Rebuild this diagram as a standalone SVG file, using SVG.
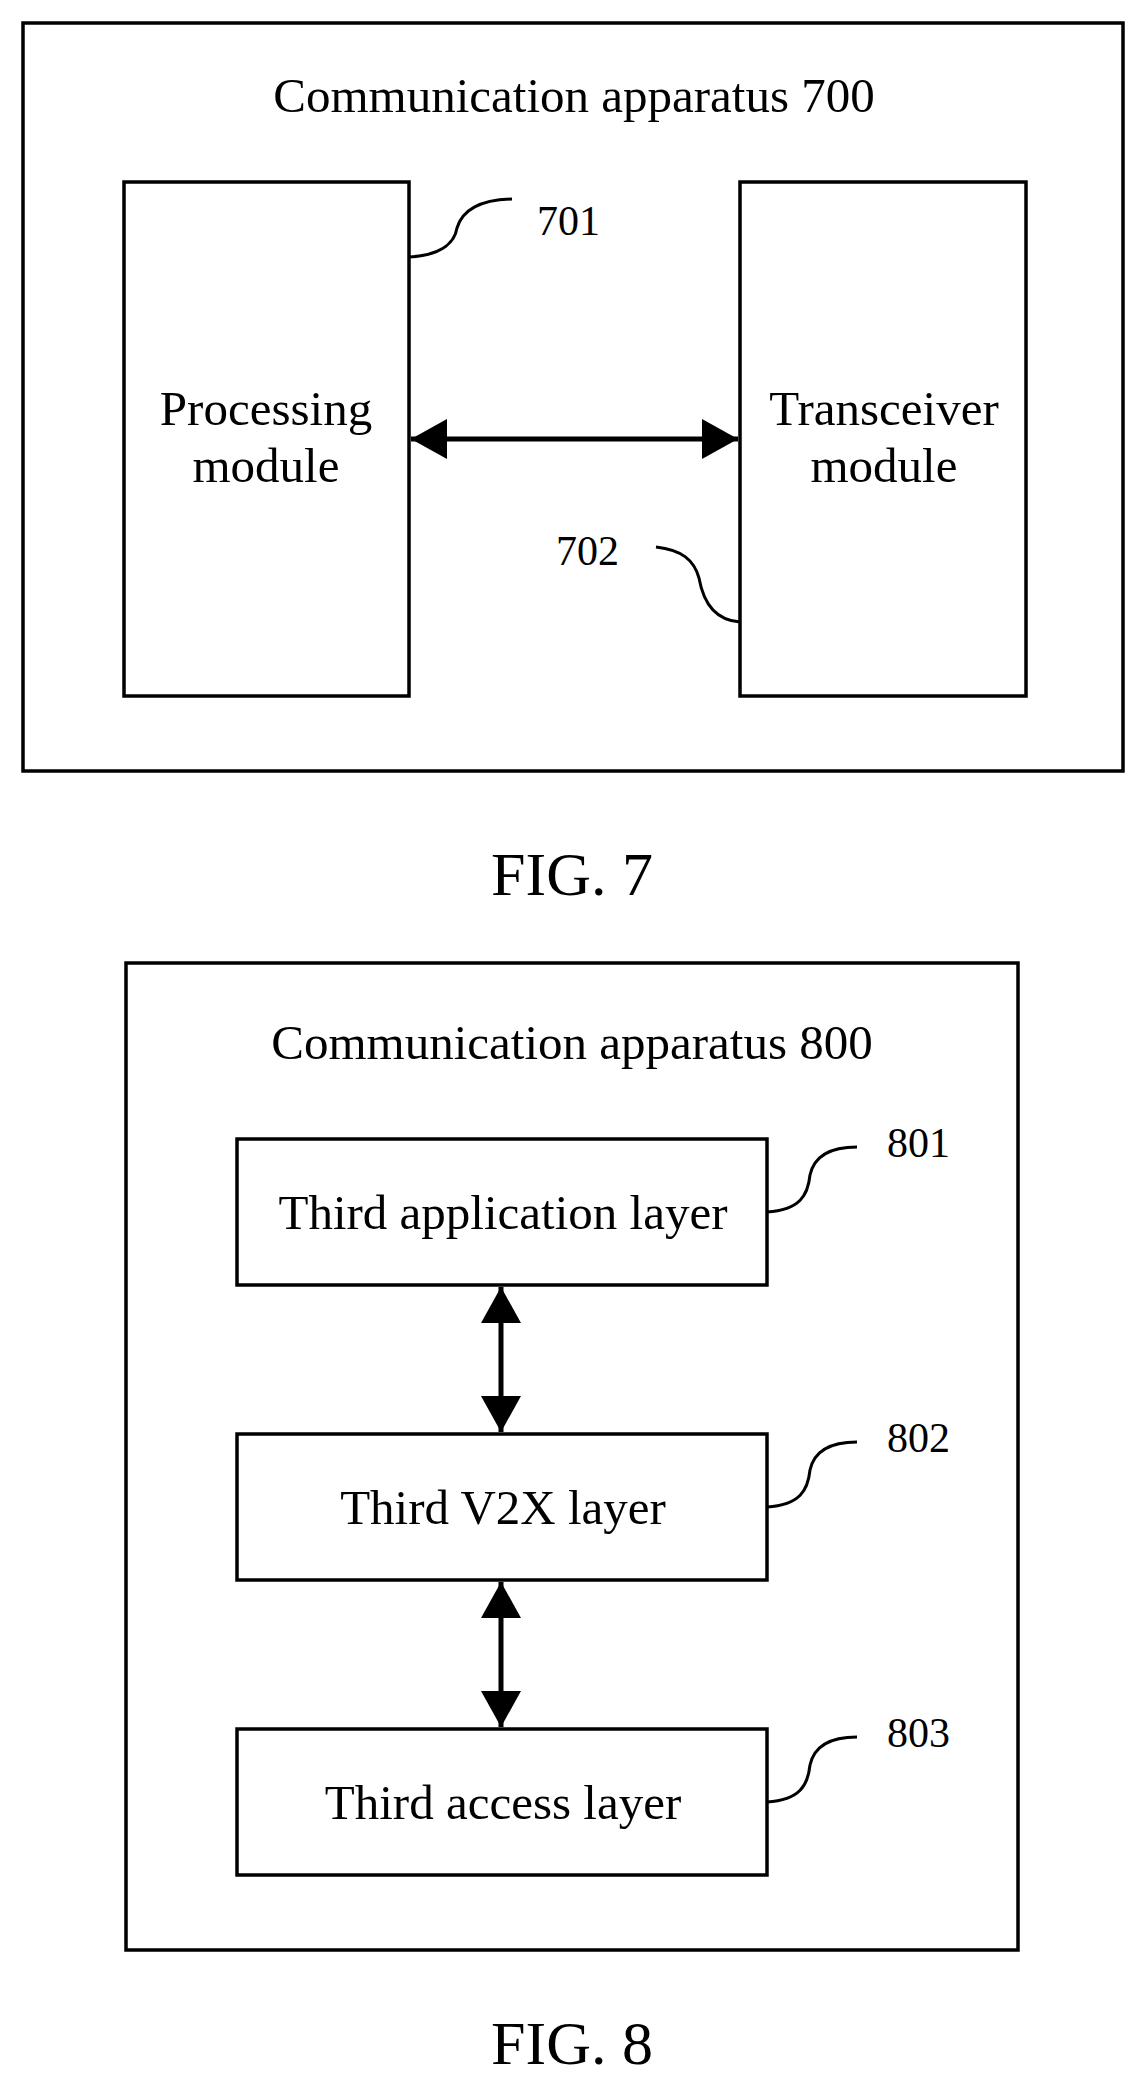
<svg xmlns="http://www.w3.org/2000/svg" width="1143" height="2080" viewBox="0 0 1143 2080">
<style>
.b{fill:none;stroke:#000;stroke-width:3.5}
.t{font-family:"Liberation Serif",serif;font-size:49px;fill:#000;text-anchor:middle}
.l{font-family:"Liberation Serif",serif;font-size:42px;fill:#000}
.f{font-family:"Liberation Serif",serif;font-size:62px;fill:#000;text-anchor:middle}
.c{fill:none;stroke:#000;stroke-width:3}
.a{stroke:#000;stroke-width:5;fill:none}
</style>
<defs>
<marker id="ah" markerUnits="userSpaceOnUse" markerWidth="36" markerHeight="40" refX="36" refY="20" orient="auto-start-reverse" viewBox="0 0 36 40"><path d="M0,0 L36,20 L0,40 Z" fill="#000"/></marker>
</defs>
<rect width="1143" height="2080" fill="#fff"/>
<g id="fig7">
<rect class="b" x="23" y="23" width="1100" height="748"/>
<text class="t" x="574" y="112">Communication apparatus 700</text>
</g>
<g id="n701">
<rect class="b" x="124" y="182" width="285" height="514"/>
<text class="t" x="266" y="425">Processing</text>
<text class="t" x="266" y="482">module</text>
<text class="l" x="537" y="235">701</text>
</g>
<g id="n702">
<rect class="b" x="740" y="182" width="286" height="514"/>
<text class="t" x="884" y="425">Transceiver</text>
<text class="t" x="884" y="482">module</text>
<text class="l" x="556" y="565">702</text>
</g>
<text class="f" x="572" y="895">FIG. 7</text>
<g id="fig8">
<rect class="b" x="126" y="963" width="892" height="987"/>
<text class="t" x="572" y="1059">Communication apparatus 800</text>
</g>
<g id="n801">
<rect class="b" x="237" y="1139" width="530" height="146"/>
<text class="t" x="503" y="1229">Third application layer</text>
<text class="l" x="887" y="1157">801</text>
</g>
<g id="n802">
<rect class="b" x="237" y="1434" width="530" height="146"/>
<text class="t" x="503" y="1524">Third V2X layer</text>
<text class="l" x="887" y="1452">802</text>
</g>
<g id="n803">
<rect class="b" x="237" y="1729" width="530" height="146"/>
<text class="t" x="503" y="1819">Third access layer</text>
<text class="l" x="887" y="1747">803</text>
</g>
<text class="f" x="572" y="2064">FIG. 8</text>
<g id="connectors">
<line class="a" x1="411" y1="439" x2="738" y2="439" marker-start="url(#ah)" marker-end="url(#ah)"/>
<line class="a" x1="501" y1="1287" x2="501" y2="1432" marker-start="url(#ah)" marker-end="url(#ah)"/>
<line class="a" x1="501" y1="1582" x2="501" y2="1727" marker-start="url(#ah)" marker-end="url(#ah)"/>
<path class="c" d="M409,257 C445,255 455,240 457,228 C460,218 470,200 512,199"/>
<path class="c" d="M740,622 C710,620 702,595 699,578 C694,560 682,550 656,547"/>
<path class="c" d="M767,1212 C800,1210 808,1195 810,1175 C814,1157 828,1147 857,1147"/>
<path class="c" d="M767,1507 C800,1505 808,1490 810,1470 C814,1452 828,1442 857,1442"/>
<path class="c" d="M767,1802 C800,1800 808,1785 810,1765 C814,1747 828,1737 857,1737"/>
</g>
</svg>
